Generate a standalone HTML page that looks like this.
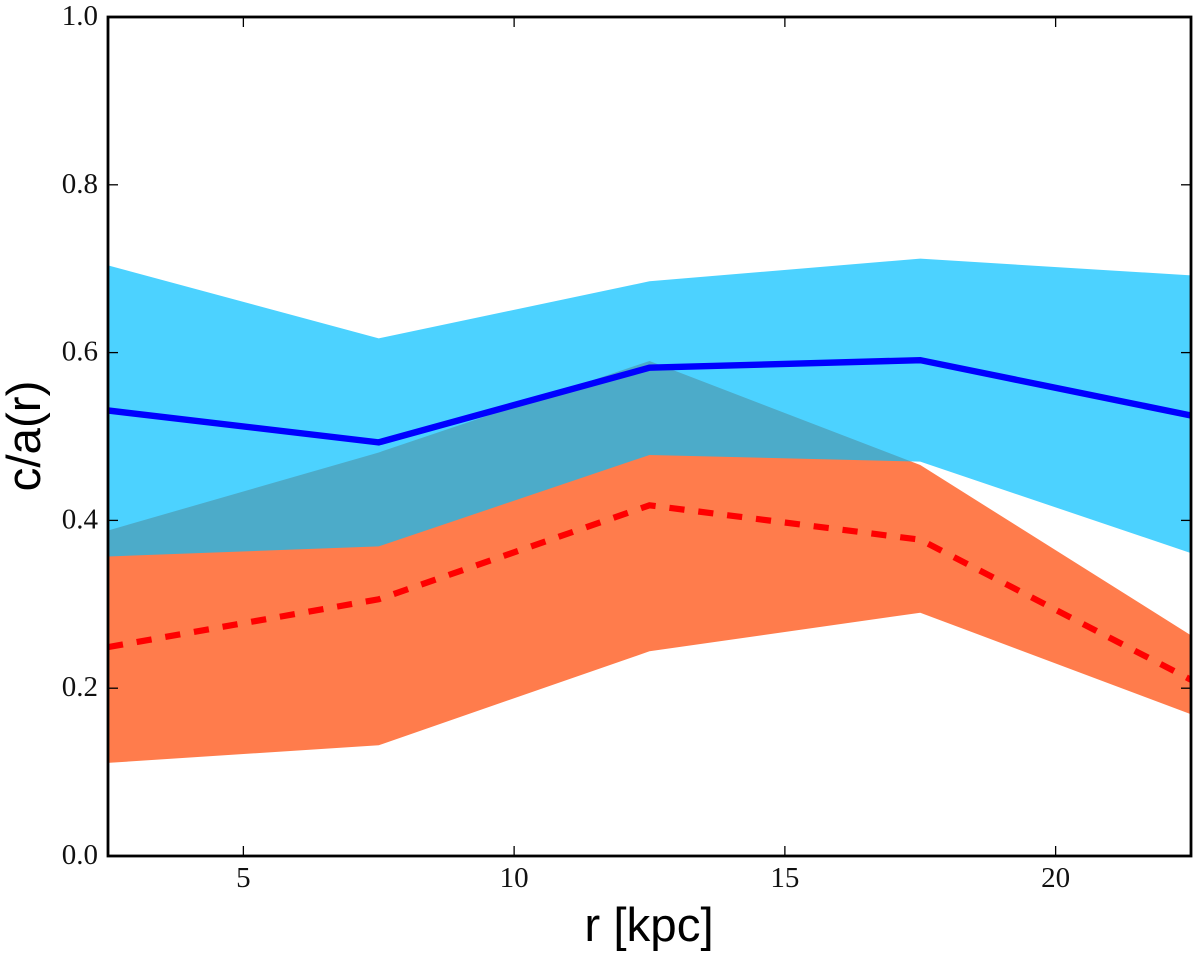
<!DOCTYPE html>
<html>
<head>
<meta charset="utf-8">
<title>c/a(r) chart</title>
<style>
html,body{margin:0;padding:0;background:#fff;}
svg{display:block;}
.tick-label{font-family:"Liberation Serif",serif;font-size:29px;fill:#111;}
.axis-title{font-family:"Liberation Sans",sans-serif;font-size:47.5px;fill:#000;}
</style>
</head>
<body>
<svg id="chart" xmlns="http://www.w3.org/2000/svg" width="1200" height="959" viewBox="0 0 1200 959">
<defs><clipPath id="plot-clip"><rect x="108" y="17" width="1083" height="839"></rect></clipPath></defs>
<rect x="0" y="0" width="1200" height="959" fill="#fff"></rect>
<g id="marks" clip-path="url(#plot-clip)"></g>
<g id="axes"></g>
<text class="axis-title" x="649" y="941" text-anchor="middle">r [kpc]</text>
<text class="axis-title" x="0" y="0" text-anchor="middle" transform="translate(40 436) rotate(-90)">c/a(r)</text>
</svg>
<script>
const radii = [2.5, 7.5, 12.5, 17.5, 22.5];
const blueUpper = [0.704, 0.617, 0.685, 0.712, 0.692];
const blueLower = [0.357, 0.369, 0.478, 0.470, 0.361];
const redUpper = [0.388, 0.481, 0.590, 0.466, 0.263];
const redLower = [0.111, 0.132, 0.244, 0.290, 0.169];
const blueLine = [0.531, 0.493, 0.582, 0.591, 0.525];
const redLine = [0.249, 0.306, 0.418, 0.377, 0.210];
const xTicks = [5, 10, 15, 20];
const yTicks = [0.0, 0.2, 0.4, 0.6, 0.8, 1.0];
const xTickLabels = ['5', '10', '15', '20'];
const yTickLabels = ['0.0', '0.2', '0.4', '0.6', '0.8', '1.0'];

const NS = 'http://www.w3.org/2000/svg';
const L = 108, R = 1191, T = 17, B = 856;
const xMin = 2.5, xMax = 22.5, yMin = 0, yMax = 1;
function sx(v) { return L + (v - xMin) / (xMax - xMin) * (R - L); }
function sy(v) { return B - (v - yMin) / (yMax - yMin) * (B - T); }
function make(tag, attrs, parent) {
  const el = document.createElementNS(NS, tag);
  for (const k in attrs) el.setAttribute(k, attrs[k]);
  parent.appendChild(el);
  return el;
}
function linePoints(ys) {
  return radii.map(function (r, i) { return sx(r).toFixed(2) + ',' + sy(ys[i]).toFixed(2); }).join(' ');
}
function bandPoints(up, low) {
  const a = radii.map(function (r, i) { return sx(r).toFixed(2) + ',' + sy(up[i]).toFixed(2); });
  const b = radii.map(function (r, i) { return sx(r).toFixed(2) + ',' + sy(low[i]).toFixed(2); }).reverse();
  return a.concat(b).join(' ');
}
const marks = document.getElementById('marks');
const axes = document.getElementById('axes');

const redBand = make('polygon', { points: bandPoints(redUpper, redLower), fill: '#ff4500', 'fill-opacity': 0.7 }, marks);



const blueBand = make('polygon', { points: bandPoints(blueUpper, blueLower), fill: '#00bfff', 'fill-opacity': 0.7 }, marks);



const redCurve = make('polyline', { points: linePoints(redLine), fill: 'none', stroke: '#ff0000', 'stroke-width': 6.2, 'stroke-dasharray': '15.2 13.88', 'stroke-linejoin': 'miter' }, marks);



const blueCurve = make('polyline', { points: linePoints(blueLine), fill: 'none', stroke: '#0000ff', 'stroke-width': 6.4, 'stroke-linejoin': 'miter' }, marks);



xTicks.forEach(function (t, i) {
  const x = sx(t);
  const tickBottom = make('line', { x1: x, x2: x, y1: B, y2: B - 10, stroke: '#000', 'stroke-width': 1.3 }, axes);
  
  
  const tickTop = make('line', { x1: x, x2: x, y1: T, y2: T + 10, stroke: '#000', 'stroke-width': 1.3 }, axes);
  
  
  const label = make('text', { class: 'tick-label', x: x, y: 887, 'text-anchor': 'middle' }, axes);
  
  
  label.textContent = xTickLabels[i];
});
yTicks.forEach(function (t, i) {
  const y = sy(t);
  const tickLeft = make('line', { x1: L, x2: L + 10, y1: y, y2: y, stroke: '#000', 'stroke-width': 1.3 }, axes);
  
  
  const tickRight = make('line', { x1: R, x2: R - 10, y1: y, y2: y, stroke: '#000', 'stroke-width': 1.3 }, axes);
  
  
  const label = make('text', { class: 'tick-label', x: 98, y: y + 8, 'text-anchor': 'end' }, axes);
  
  
  label.textContent = yTickLabels[i];
});
const frame = make('rect', { x: L, y: T, width: R - L, height: B - T, fill: 'none', stroke: '#000', 'stroke-width': 2.8 }, axes);


</script>
</body>
</html>
